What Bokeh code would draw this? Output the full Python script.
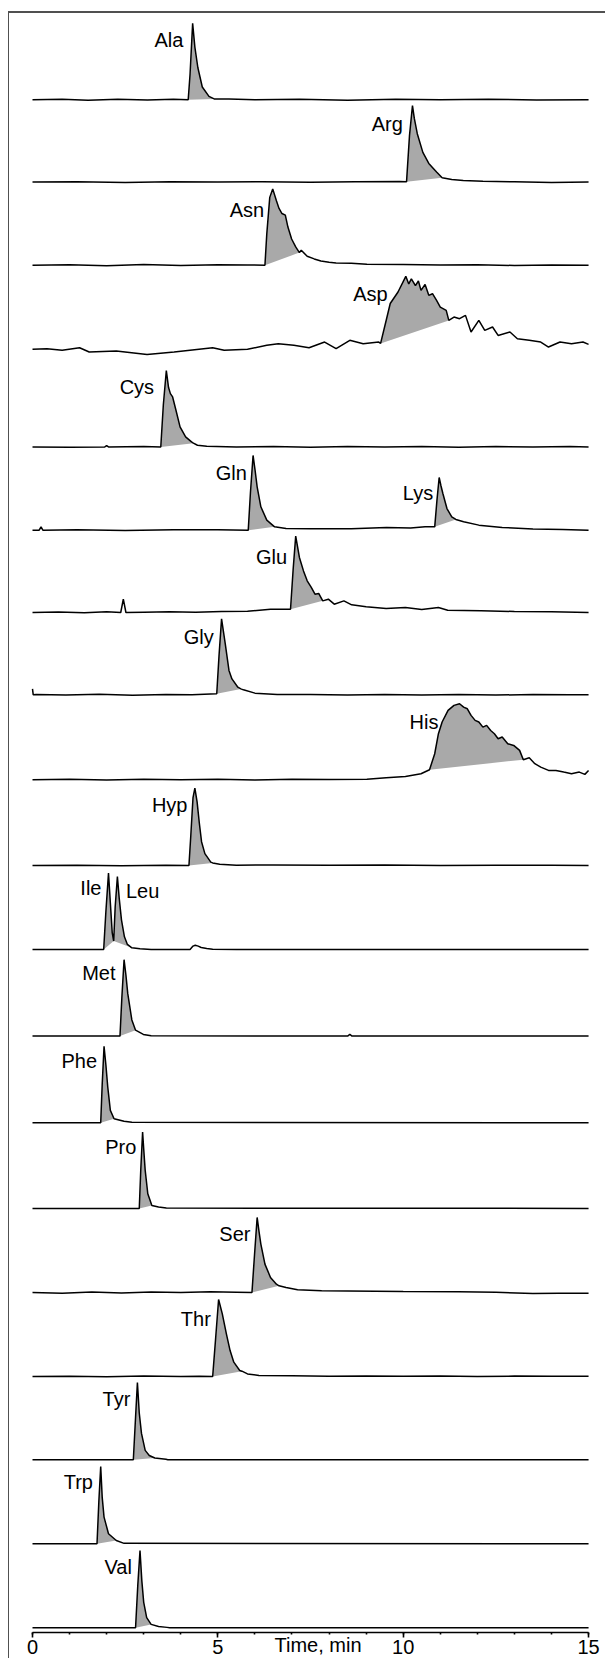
from bokeh.plotting import figure
from bokeh.models import Range1d, FixedTicker
from bokeh.core.properties import value
from bokeh.embed import file_html
from bokeh.resources import INLINE

# ---------------- data (time in min, relative intensity) ----------------
names = ["Ala", "Arg", "Asn", "Asp", "Cys", "Gln/Lys", "Glu", "Gly", "His", "Hyp",
         "Ile/Leu", "Met", "Phe", "Pro", "Ser", "Thr", "Tyr", "Trp", "Val"]

ala_t = [0.0, 0.8, 1.5, 2.3, 3.1, 3.8, 4.2, 4.25, 4.32, 4.38, 4.46, 4.58, 4.76, 4.9, 5.3, 6.0, 7.2, 8.5, 9.8, 11.0, 12.3, 13.6, 15.0]
ala_v = [0, 0.5, -0.5, 0.6, -0.4, 0.5, 0, 30, 90, 62, 38, 15, 4, 1, 0.8, 0, 0.6, -0.5, 0.5, 0, 0.6, -0.4, 0]

arg_t = [0, 1.2, 2.5, 3.7, 5.0, 6.2, 7.5, 8.7, 9.9, 10.09, 10.17, 10.25, 10.3, 10.38, 10.53, 10.69, 10.9, 11.05, 11.31, 11.62, 12.15, 13.0, 14.0, 15.0]
arg_v = [0, 0.4, -0.4, 0.5, 0, 0.5, -0.3, 0.4, 0.8, 0.5, 55, 90, 75, 57, 35, 22, 12, 5, 3, 2, 1, 0.3, -0.4, 0]

asn_t = [0, 1.0, 2.0, 3.0, 4.0, 5.0, 5.8, 6.27, 6.32, 6.40, 6.48, 6.58, 6.65, 6.73, 6.82, 6.89, 6.99, 7.10, 7.20, 7.25, 7.41, 7.60, 7.78, 8.0, 8.19, 8.6, 9.02, 10.0, 11.0, 12.0, 13.0, 14.0, 15.0]
asn_v = [0, 0.6, -0.4, 0.8, -0.3, 0.6, 0.4, 0, 37, 80, 90, 76, 67, 61, 59, 45, 31, 21.6, 15, 17.7, 10.6, 7.5, 5, 3.5, 2.7, 2.5, 1.2, 0.8, 0.2, 0.6, -0.2, 0.4, 0]

asp_t = [0.0, 0.39, 0.80, 1.27, 1.53, 2.26, 3.09, 3.82, 4.86, 5.17, 5.80, 6.32, 6.63, 7.05, 7.46, 7.88, 8.19, 8.56, 8.92, 9.34, 9.39, 9.54, 9.65, 9.86, 10.07, 10.15, 10.22, 10.33, 10.41, 10.48, 10.59, 10.69, 10.79, 10.90, 11.00, 11.16, 11.23, 11.37, 11.52, 11.68, 11.83, 12.04, 12.20, 12.41, 12.56, 12.88, 13.08, 13.40, 13.71, 13.92, 14.23, 14.54, 14.85, 15.0]
asp_v = [0, 0.7, -1.2, 1.9, -3.2, -2, -6, -3.2, 1.9, -1.2, 0, 4.7, 6.6, 4.7, 1.9, 8.6, 0.8, 10.6, 6.6, 8.6, 7.0, 34, 54, 67.5, 86, 77, 83, 75, 80.5, 69.5, 76.5, 63.6, 65.5, 57.7, 49.8, 45.9, 34.1, 38, 36.1, 40, 20.4, 34.1, 22.3, 26.3, 16.4, 20.4, 12.5, 10.6, 8.6, 2.7, 8.6, 6.6, 8.6, 5.9]

cys_t = [0, 1.0, 1.95, 2.0, 2.05, 3.0, 3.46, 3.53, 3.61, 3.67, 3.72, 3.78, 3.87, 3.98, 4.13, 4.29, 4.34, 4.45, 4.7, 5.5, 6.5, 7.5, 8.5, 9.5, 10.5, 11.5, 12.5, 13.5, 14.5, 15.0]
cys_v = [0, -0.4, 0, 1.5, 0, 0.4, 0, 50, 90, 70, 62.8, 58.9, 43.2, 23.6, 11.8, 5.9, 4.5, 2, 0.8, 0, 0.5, -0.3, 0.5, 0, 0.5, -0.3, 0.4, 0, 0.4, 0]

gln_t = [0, 0.18, 0.23, 0.28, 1.2, 2.5, 3.8, 5.0, 5.82, 5.88, 5.95, 6.0, 6.06, 6.16, 6.32, 6.53, 6.84, 7.5, 8.6, 9.55, 10.2, 10.59, 10.85, 10.91, 10.97, 11.02, 11.07, 11.18, 11.31, 11.42, 11.63, 12.04, 12.67, 13.5, 14.3, 15.0]
gln_v = [0, 0, 3.9, 0, 0.4, -0.3, 0.4, 0.5, 0, 45, 88, 72, 51, 27.5, 11.8, 3.9, 2, 1.6, 1.6, 3.1, 2.5, 3.9, 3.9, 35, 62, 52, 43.2, 25.5, 15.7, 12.6, 9.8, 5.9, 3.1, 1.5, 0.8, 0]

glu_t = [0, 0.7, 1.4, 2.0, 2.38, 2.45, 2.52, 3.0, 3.7, 4.4, 5.1, 5.8, 6.42, 6.96, 7.03, 7.10, 7.2, 7.31, 7.41, 7.52, 7.62, 7.72, 7.83, 7.98, 8.14, 8.4, 8.61, 9.0, 9.54, 10.06, 10.5, 10.95, 11.2, 12.1, 13.0, 14.0, 15.0]
glu_v = [0, 0.6, -0.3, 0.8, 0, 15.7, 0, 0.4, 0.8, 0.3, 1.2, 1.5, 3.9, 3.9, 50, 90, 64.8, 49, 37.3, 29.5, 21.6, 22.4, 13.7, 15.7, 9.8, 13.7, 9, 6.7, 4.7, 5.9, 3.5, 5.9, 2.7, 2, 1.2, 0.8, 0]

gly_t = [0, 0.02, 0.1, 0.9, 1.8, 2.7, 3.6, 4.3, 4.97, 5.03, 5.10, 5.2, 5.3, 5.38, 5.54, 5.62, 5.69, 6.0, 6.6, 7.5, 8.5, 9.5, 10.5, 11.5, 12.5, 13.5, 14.5, 15.0]
gly_v = [7, 0, 0.5, -0.3, 0.6, -0.4, 0.5, 0, 1.2, 45, 89.5, 60, 28.7, 18.8, 9, 7, 5.9, 2, 0.5, 0.3, -0.3, 0.5, -0.2, 0.4, -0.3, 0.4, 0.2, 0]

his_t = [0, 1.0, 2.0, 3.0, 4.0, 5.0, 6.0, 7.0, 8.0, 9.02, 9.54, 10.06, 10.48, 10.71, 10.85, 10.95, 11.05, 11.21, 11.37, 11.52, 11.63, 11.73, 11.83, 11.94, 12.04, 12.15, 12.25, 12.36, 12.46, 12.56, 12.67, 12.82, 12.98, 13.14, 13.24, 13.4, 13.55, 13.71, 13.92, 14.12, 14.33, 14.54, 14.75, 14.9, 15.0]
his_v = [0, 0.5, -0.4, 0.6, 0, 0.5, -0.3, 0.6, 0.2, 0.5, 2.4, 3.9, 7.1, 11.8, 30.6, 54.2, 68, 81.7, 87.6, 89.5, 85.6, 83.6, 75.8, 69.9, 68, 62, 64, 58, 54.2, 48.3, 50.3, 42.4, 40.4, 34.6, 23.6, 25.9, 18.9, 14.9, 11, 11, 9, 7.1, 9, 6.3, 11]

hyp_t = [0, 1.2, 2.4, 3.6, 4.22, 4.27, 4.33, 4.38, 4.44, 4.5, 4.56, 4.65, 4.81, 4.86, 5.05, 5.5, 6.5, 8.0, 9.5, 11.0, 12.5, 14.0, 15.0]
hyp_v = [0, 0.3, -0.2, 0.3, 0, 35, 80, 91, 75, 50, 28, 14, 4, 3, 1.5, 0.3, 0.6, 0.2, 0.5, 0, 0.4, 0.2, 0]

ile_t = [0, 1.0, 1.92, 1.98, 2.05, 2.10, 2.15, 2.19, 2.23, 2.29, 2.34, 2.40, 2.48, 2.56, 2.68, 2.9, 3.2, 4.25, 4.33, 4.39, 4.47, 4.55, 4.7, 4.86, 5.5, 7.0, 9.0, 11.0, 13.0, 15.0]
ile_v = [0, 0, 0, 45, 90, 55, 20, 10, 50, 86, 60, 35, 15, 6, 2, 1, 0, 0, 4, 5, 4, 2.4, 1.2, 0.4, 0, 0, 0, 0, 0, 0]

met_t = [0, 2.36, 2.41, 2.47, 2.52, 2.57, 2.68, 2.78, 2.99, 3.2, 8.5, 8.56, 8.62, 15]
met_v = [0, 0, 45, 90, 72, 50, 19, 7, 2, 0.4, 0, 2, 0, 0]

phe_t = [0, 1.84, 1.88, 1.93, 1.98, 2.03, 2.1, 2.2, 2.47, 2.68, 15]
phe_v = [0, 0, 45, 90, 68, 42, 14.5, 4.7, 1.6, 0.4, 0]

pro_t = [0, 2.88, 2.92, 2.97, 3.0, 3.04, 3.11, 3.22, 3.4, 3.61, 15]
pro_v = [0, 0, 45, 90, 70, 44.8, 17.3, 3.5, 1.6, 0.4, 0]

ser_t = [0, 0.8, 1.6, 2.4, 3.2, 4.0, 4.8, 5.5, 5.92, 5.99, 6.06, 6.11, 6.16, 6.27, 6.42, 6.58, 6.65, 6.84, 7.15, 7.8, 8.5, 10.0, 11.5, 12.5, 13.5, 14.2, 15.0]
ser_v = [0, -0.8, 0.5, -0.6, 0.7, 0, 0.8, 0.4, 0, 45, 88.4, 72, 57, 33.4, 17.7, 9.8, 7.9, 5.9, 3.1, 2, 1.8, 1.2, 1, 0.3, -1.2, -1.0, -0.8]

thr_t = [0, 1.0, 2.0, 3.0, 4.0, 4.5, 4.86, 4.94, 5.02, 5.12, 5.23, 5.33, 5.43, 5.59, 5.65, 5.8, 6.11, 7.0, 8.0, 9.0, 10.0, 11.0, 12.0, 13.0, 14.0, 15.0]
thr_v = [0, 0.4, -0.3, 0.5, 0, 0.4, 0, 45, 90.7, 73.8, 50.3, 30.6, 16.9, 7.1, 6.3, 3.1, 1.2, 0.8, 0.4, 0.6, 0.2, 0.5, 0, 0.5, 0.3, 0.2]

tyr_t = [0, 2.72, 2.78, 2.83, 2.88, 2.94, 3.04, 3.15, 3.3, 3.6, 3.65, 15]
tyr_v = [0, 0, 50, 91, 55, 31, 11, 5, 2, 0.5, 0, 0]

trp_t = [0, 1.74, 1.79, 1.84, 1.88, 1.93, 2.05, 2.26, 2.47, 15]
trp_v = [0, 0, 50, 91, 55, 31.4, 11.8, 3.9, 0.5, 0]

val_t = [0, 2.78, 2.84, 2.9, 2.95, 3.0, 3.08, 3.2, 3.4, 3.63, 3.7, 15]
val_v = [0, 0, 50, 91, 55, 30, 12, 4, 1.5, 0.5, 0, 0]

traces_t = [ala_t, arg_t, asn_t, asp_t, cys_t, gln_t, glu_t, gly_t, his_t, hyp_t,
            ile_t, met_t, phe_t, pro_t, ser_t, thr_t, tyr_t, trp_t, val_t]
traces_v = [ala_v, arg_v, asn_v, asp_v, cys_v, gln_v, glu_v, gly_v, his_v, hyp_v,
            ile_v, met_v, phe_v, pro_v, ser_v, thr_v, tyr_v, trp_v, val_v]

# integrated peak windows: (trace index, start min, end min)
peak_trace = [0, 1, 2, 3, 4, 5, 5, 6, 7, 8, 9, 10, 10, 11, 12, 13, 14, 15, 16, 17, 18]
peak_start = [4.2, 10.09, 6.27, 9.39, 3.46, 5.82, 10.85, 6.96, 4.97, 10.71, 4.22, 1.92, 2.19, 2.36, 1.84, 2.88, 5.92, 4.86, 2.72, 1.74, 2.78]
peak_end = [4.9, 11.05, 7.20, 11.23, 4.34, 6.53, 11.42, 7.83, 5.62, 13.24, 4.86, 2.19, 2.68, 2.78, 2.2, 3.22, 6.65, 5.65, 3.3, 2.26, 3.2]

# peak labels
label_text = ["Ala", "Arg", "Asn", "Asp", "Cys", "Gln", "Lys", "Glu", "Gly", "His", "Hyp",
              "Ile", "Leu", "Met", "Phe", "Pro", "Ser", "Thr", "Tyr", "Trp", "Val"]
label_trace = [0, 1, 2, 3, 4, 5, 5, 6, 7, 8, 9, 10, 10, 11, 12, 13, 14, 15, 16, 17, 18]

x_ticks = [0, 5, 10, 15]
x_minor = list(range(0, 16))
x_title = "Time, min"

# ---------------- layout (not data) ----------------
offsets = [1800, 1703, 1605, 1506, 1391, 1293, 1196, 1099, 999, 898,
           799, 697, 595, 494, 395, 296, 198, 99, 0]
label_x = [4.07, 9.99, 6.25, 9.58, 3.28, 5.78, 10.81, 6.87, 4.89, 10.95, 4.18,
           1.86, 2.52, 2.24, 1.74, 2.80, 5.88, 4.81, 2.64, 1.63, 2.68]
label_lvl = [70.7, 69, 65, 65, 71, 67, 43.6, 65, 68, 68, 71,
             72, 69.5, 74, 72.6, 72.7, 69, 68.3, 72, 73, 71.9]
label_align = ["right"] * 12 + ["left"] + ["right"] * 8

FONT = "Liberation Sans"
FS = "20px"

# frame spans page x 30..605 so that the axis title is centred where the original has it
p = figure(frame_width=575, frame_height=1619,
           x_range=Range1d(-0.054, 15.457), y_range=Range1d(-5.54, 1901.6),
           output_backend="svg", toolbar_location=None, y_axis_location=None,
           min_border_left=21, min_border_right=0, min_border_top=0, min_border_bottom=0)
p.outline_line_color = None
p.xgrid.visible = False
p.ygrid.visible = False
p.background_fill_color = "white"
p.border_fill_color = "white"
p.styles = {"border-top": "2px solid #505050", "border-left": "1px solid #505050",
            "margin-top": "11px", "margin-left": "8px"}

for i in range(len(traces_t)):
    ys = [offsets[i] + v for v in traces_v[i]]
    p.line(traces_t[i], ys, line_color="black", line_width=1.5)

for k in range(len(peak_trace)):
    i = peak_trace[k]
    xs, ys = [], []
    for t, v in zip(traces_t[i], traces_v[i]):
        if peak_start[k] - 1e-9 <= t <= peak_end[k] + 1e-9:
            xs.append(t)
            ys.append(offsets[i] + v)
    p.patch(xs, ys, fill_color="#a9a9a9", line_color=None, level="underlay")

for j in range(len(label_text)):
    p.text(x=[label_x[j]], y=[offsets[label_trace[j]] + label_lvl[j]], text=[label_text[j]],
           text_align=label_align[j], text_baseline="alphabetic",
           text_font=value(FONT), text_font_size=FS, text_color="black")

ax = p.xaxis[0]
ax.ticker = FixedTicker(ticks=x_ticks, minor_ticks=x_minor)
ax.bounds = (0, 15)
ax.axis_line_width = 1.6
ax.axis_line_color = "black"
ax.major_tick_in = 0
ax.major_tick_out = 5
ax.major_tick_line_width = 1.6
ax.minor_tick_in = 0
ax.minor_tick_out = 2
ax.minor_tick_line_width = 1.6
ax.major_label_text_font = FONT
ax.major_label_text_font_size = FS
ax.major_label_text_color = "black"
ax.major_label_standoff = 2
ax.axis_label = x_title
ax.axis_label_text_font = FONT
ax.axis_label_text_font_size = FS
ax.axis_label_text_font_style = "normal"
ax.axis_label_text_color = "black"
ax.axis_label_standoff = -23

open("out.html", "w").write(file_html(p, INLINE))
